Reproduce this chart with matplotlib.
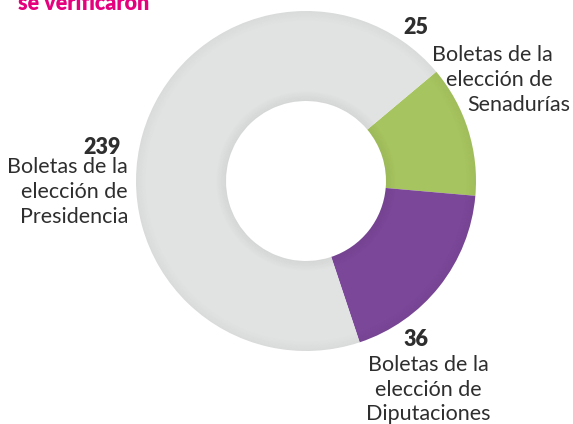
import numpy as np
import matplotlib
matplotlib.use("Agg")
import matplotlib.pyplot as plt
from matplotlib.patches import Wedge

plt.rcParams['font.family'] = ['Lato', 'DejaVu Sans']

# Datos
categorias = ['Senadurías', 'Diputaciones', 'Presidencia']
boletas = [25, 36, 239]
# proporción visible de cada sector en el gráfico (%)
cuota = [12.5, 18.5, 69.0]
colores = ['#a6c45f', '#7b4799', '#e1e3e2']
titulo = 'se verificaron'

W, H = 573, 424
fig = plt.figure(figsize=(W / 100, H / 100), dpi=100)
ax = fig.add_axes([0, 0, 1, 1])

cx, cy = 306, H - 181
R, r_in = 170, 80

ax.pie(cuota, colors=colores, startangle=40, counterclock=False,
       radius=R, center=(cx, cy),
       wedgeprops=dict(width=R - r_in, edgecolor='none', linewidth=0))

# sombreado suave en los bordes del anillo
n = 10
for i in range(n):
    a = 0.05 * (1 - i / n)
    ax.add_patch(Wedge((cx, cy), r_in + i + 1, 0, 360, width=1, color='black', alpha=a, lw=0))
    ax.add_patch(Wedge((cx, cy), R - i, 0, 360, width=1, color='black', alpha=a * 0.6, lw=0))

ax.set_xlim(0, W)
ax.set_ylim(0, H)
ax.set_aspect('equal')
ax.axis('off')

txt = '#2e2e2e'
fs_num, fs_lab = 15.5, 15.5


def y(v):
    return H - v


# título (recortado en la parte superior)
ax.text(18, y(10), titulo, color='#e5007e', fontsize=15.5, fontweight='heavy',
        ha='left', va='baseline')

# Presidencia
ax.text(121, y(147), str(boletas[2]), fontsize=fs_num, fontweight='heavy', color=txt,
        ha='right', va='center')
for yy, s in zip([167, 192, 217], ['Boletas de la', 'elección de', categorias[2]]):
    ax.text(128, y(yy), s, fontsize=fs_lab, color=txt, ha='right', va='center')

# Senadurías
ax.text(403, y(28), str(boletas[0]), fontsize=fs_num, fontweight='heavy', color=txt,
        ha='left', va='center')
for xx, yy, s in zip([553, 553, 570], [55, 80, 105],
                     ['Boletas de la', 'elección de', categorias[0]]):
    ax.text(xx, y(yy), s, fontsize=fs_lab, color=txt, ha='right', va='center')

# Diputaciones
ax.text(416, y(340), str(boletas[1]), fontsize=fs_num, fontweight='heavy', color=txt,
        ha='center', va='center')
for yy, s in zip([365, 390, 414], ['Boletas de la', 'elección de', categorias[1]]):
    ax.text(428, y(yy), s, fontsize=fs_lab, color=txt, ha='center', va='center')

fig.savefig('out.png', dpi=100)
